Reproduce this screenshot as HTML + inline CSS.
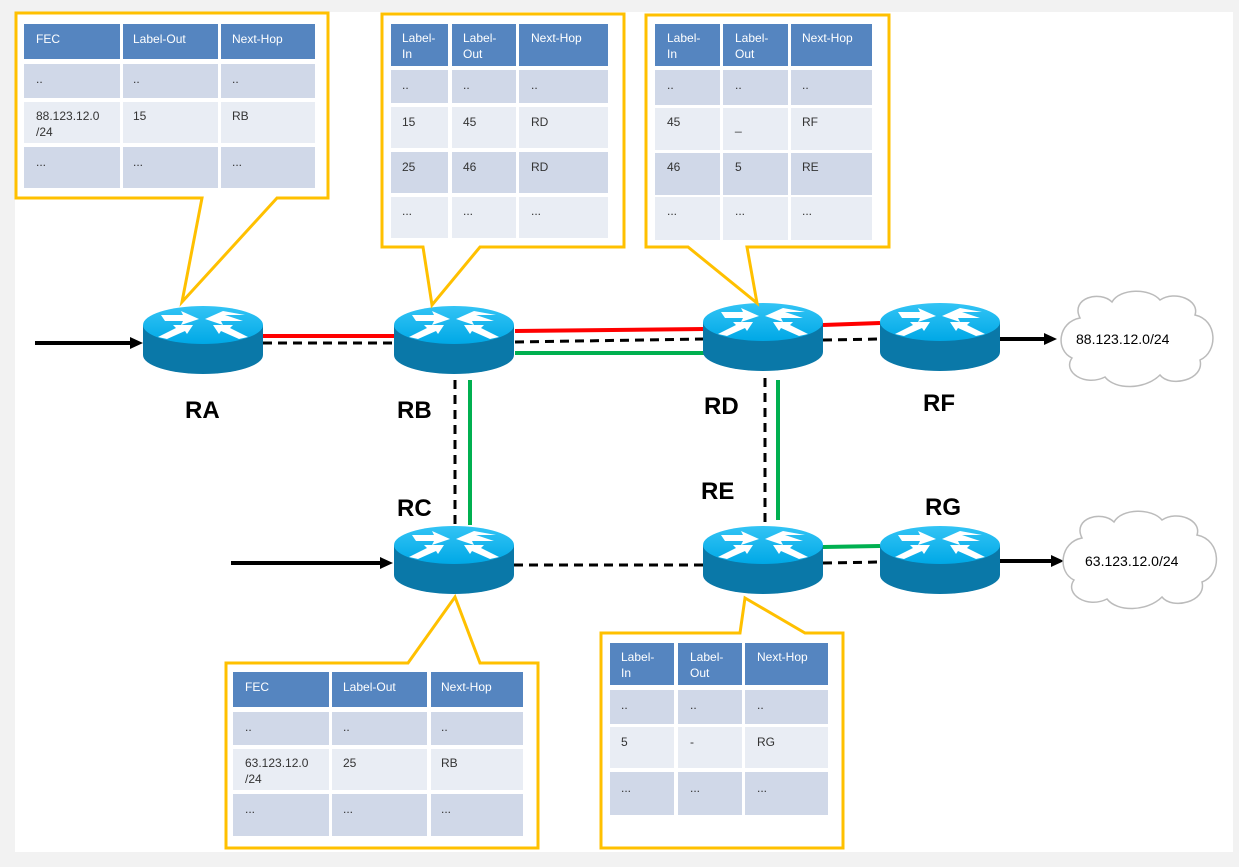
<!DOCTYPE html>
<html><head><meta charset="utf-8"><style>
html,body{margin:0;padding:0;background:#f2f2f2;}
svg{display:block;font-family:"Liberation Sans",sans-serif;}
.h{fill:#fff;font-size:12px;}
.c{fill:#333;font-size:12px;}
.lbl{font-size:24px;font-weight:bold;fill:#000;}
</style></head><body>
<svg width="1239" height="867" viewBox="0 0 1239 867" xmlns="http://www.w3.org/2000/svg">
<defs>
<linearGradient id="tg" x1="0" y1="0" x2="0" y2="1"><stop offset="0" stop-color="#33c4f5"/><stop offset="1" stop-color="#00a8e6"/></linearGradient>
<g id="r">
<path d="M-60,0 L-60,30 A60,19 0 0 0 60,30 L60,0 Z" fill="#0a78a8"/>
<ellipse cx="0" cy="0" rx="60" ry="19" fill="url(#tg)"/>
<g fill="#fff">
<polygon points="-42,-10 -20,-10 -22,-14 -4,-6 -22,0 -20,-4 -38,-4"/>
<polygon points="42,-10 22,-10 40,-4 18,-4 20,0 2,-6 20,-14"/>
<polygon points="-45,12 -27,3 -30,0 -10,0 -16,9 -18,6 -36,14"/>
<polygon points="45,12 27,3 30,0 10,0 16,9 18,6 36,14"/>
</g>
</g>
</defs>
<rect x="15" y="12" width="1218" height="840" fill="#fff"/>

<!-- lines -->
<g fill="none" stroke-width="4">
<line x1="263" y1="336" x2="395" y2="336" stroke="#f00"/>
<line x1="515" y1="331" x2="705" y2="329" stroke="#f00"/>
<line x1="823" y1="325" x2="880" y2="323" stroke="#f00"/>
<line x1="515" y1="353" x2="705" y2="353" stroke="#00b050"/>
<line x1="470" y1="380" x2="470" y2="525" stroke="#00b050"/>
<line x1="778" y1="380" x2="778" y2="520" stroke="#00b050"/>
<line x1="823" y1="547" x2="880" y2="546" stroke="#00b050"/>
</g>
<g fill="none" stroke="#000" stroke-width="3" stroke-dasharray="9,6">
<line x1="263" y1="343" x2="395" y2="343"/>
<line x1="515" y1="342" x2="705" y2="339"/>
<line x1="823" y1="340" x2="880" y2="339"/>
<line x1="455" y1="380" x2="455" y2="528"/>
<line x1="765" y1="378" x2="765" y2="525"/>
<line x1="514" y1="565" x2="705" y2="565"/>
<line x1="823" y1="563" x2="880" y2="562"/>
</g>
<g stroke="#000" stroke-width="4">
<line x1="35" y1="343" x2="132" y2="343"/>
<line x1="231" y1="563" x2="382" y2="563"/>
<line x1="1000" y1="339" x2="1045" y2="339"/>
<line x1="1000" y1="561" x2="1052" y2="561"/>
</g>
<g fill="#000">
<polygon points="143,343 130,337 130,349"/>
<polygon points="393,563 380,557 380,569"/>
<polygon points="1057,339 1044,333 1044,345"/>
<polygon points="1064,561 1051,555 1051,567"/>
</g>

<!-- routers -->
<use href="#r" x="203" y="325"/>
<use href="#r" x="454" y="325"/>
<use href="#r" x="763" y="322"/>
<use href="#r" x="940" y="322"/>
<use href="#r" x="454" y="545"/>
<use href="#r" x="763" y="545"/>
<use href="#r" x="940" y="545"/>

<text class="lbl" x="185" y="418">RA</text>
<text class="lbl" x="397" y="418">RB</text>
<text class="lbl" x="704" y="414">RD</text>
<text class="lbl" x="923" y="411">RF</text>
<text class="lbl" x="397" y="516">RC</text>
<text class="lbl" x="701" y="499">RE</text>
<text class="lbl" x="925" y="515">RG</text>

<!-- clouds -->
<g fill="#fff" stroke="#bbb" stroke-width="1.5">
<path d="M1080,318 C1070,298 1100,290 1112,302 C1120,288 1150,288 1160,300 C1175,290 1200,300 1195,315 C1218,320 1218,352 1200,360 C1205,380 1170,388 1160,375 C1145,390 1115,390 1105,377 C1085,387 1062,372 1072,358 C1055,350 1058,322 1080,318 Z"/>
<path d="M1082,538 C1072,518 1102,510 1114,522 C1122,508 1152,508 1162,520 C1177,510 1202,520 1197,535 C1222,540 1222,575 1202,582 C1207,602 1172,610 1162,597 C1147,612 1117,612 1107,599 C1087,609 1064,594 1074,580 C1057,572 1060,542 1082,538 Z"/>
</g>
<text x="1076" y="344" style="font-size:14px;fill:#000">88.123.12.0/24</text>
<text x="1085" y="566" style="font-size:14px;fill:#000">63.123.12.0/24</text>

<!-- callouts -->
<g fill="#fff" stroke="#ffc000" stroke-width="3" stroke-linejoin="miter">
<path d="M16,13 H328 V198 H277 L182,302 L202,198 H16 Z"/>
<path d="M382,14 H624 V247 H480 L432,305 L423,247 H382 Z"/>
<path d="M646,15 H889 V247 H747 L757,303 L688,247 H646 Z"/>
<path d="M226,663 H408 L455,597 L480,663 H538 V848 H226 Z"/>
<path d="M601,633 H740 L745,598 L805,633 H843 V848 H601 Z"/>
</g>

<!-- RA table -->
<g>
<rect x="24" y="24" width="96" height="35" fill="#5585c0"/><rect x="123" y="24" width="95" height="35" fill="#5585c0"/><rect x="221" y="24" width="94" height="35" fill="#5585c0"/>
<rect x="24" y="64" width="96" height="34" fill="#d0d8e8"/><rect x="123" y="64" width="95" height="34" fill="#d0d8e8"/><rect x="221" y="64" width="94" height="34" fill="#d0d8e8"/>
<rect x="24" y="102" width="96" height="41" fill="#e9edf4"/><rect x="123" y="102" width="95" height="41" fill="#e9edf4"/><rect x="221" y="102" width="94" height="41" fill="#e9edf4"/>
<rect x="24" y="147" width="96" height="41" fill="#d0d8e8"/><rect x="123" y="147" width="95" height="41" fill="#d0d8e8"/><rect x="221" y="147" width="94" height="41" fill="#d0d8e8"/>
<text class="h" x="36" y="43">FEC</text><text class="h" x="133" y="43">Label-Out</text><text class="h" x="232" y="43">Next-Hop</text>
<text class="c" x="36" y="83">..</text><text class="c" x="133" y="83">..</text><text class="c" x="232" y="83">..</text>
<text class="c" x="36" y="120">88.123.12.0</text><text class="c" x="36" y="136">/24</text><text class="c" x="133" y="120">15</text><text class="c" x="232" y="120">RB</text>
<text class="c" x="36" y="166">...</text><text class="c" x="133" y="166">...</text><text class="c" x="232" y="166">...</text>
</g>

<!-- RB table -->
<g>
<rect x="391" y="24" width="57" height="42" fill="#5585c0"/><rect x="452" y="24" width="64" height="42" fill="#5585c0"/><rect x="519" y="24" width="89" height="42" fill="#5585c0"/>
<rect x="391" y="70" width="57" height="33" fill="#d0d8e8"/><rect x="452" y="70" width="64" height="33" fill="#d0d8e8"/><rect x="519" y="70" width="89" height="33" fill="#d0d8e8"/>
<rect x="391" y="107" width="57" height="41" fill="#e9edf4"/><rect x="452" y="107" width="64" height="41" fill="#e9edf4"/><rect x="519" y="107" width="89" height="41" fill="#e9edf4"/>
<rect x="391" y="152" width="57" height="41" fill="#d0d8e8"/><rect x="452" y="152" width="64" height="41" fill="#d0d8e8"/><rect x="519" y="152" width="89" height="41" fill="#d0d8e8"/>
<rect x="391" y="197" width="57" height="41" fill="#e9edf4"/><rect x="452" y="197" width="64" height="41" fill="#e9edf4"/><rect x="519" y="197" width="89" height="41" fill="#e9edf4"/>
<text class="h" x="402" y="42">Label-</text><text class="h" x="402" y="58">In</text><text class="h" x="463" y="42">Label-</text><text class="h" x="463" y="58">Out</text><text class="h" x="531" y="42">Next-Hop</text>
<text class="c" x="402" y="89">..</text><text class="c" x="463" y="89">..</text><text class="c" x="531" y="89">..</text>
<text class="c" x="402" y="126">15</text><text class="c" x="463" y="126">45</text><text class="c" x="531" y="126">RD</text>
<text class="c" x="402" y="171">25</text><text class="c" x="463" y="171">46</text><text class="c" x="531" y="171">RD</text>
<text class="c" x="402" y="215">...</text><text class="c" x="463" y="215">...</text><text class="c" x="531" y="215">...</text>
</g>

<!-- RD table -->
<g>
<rect x="655" y="24" width="65" height="42" fill="#5585c0"/><rect x="723" y="24" width="65" height="42" fill="#5585c0"/><rect x="791" y="24" width="81" height="42" fill="#5585c0"/>
<rect x="655" y="70" width="65" height="35" fill="#d0d8e8"/><rect x="723" y="70" width="65" height="35" fill="#d0d8e8"/><rect x="791" y="70" width="81" height="35" fill="#d0d8e8"/>
<rect x="655" y="108" width="65" height="42" fill="#e9edf4"/><rect x="723" y="108" width="65" height="42" fill="#e9edf4"/><rect x="791" y="108" width="81" height="42" fill="#e9edf4"/>
<rect x="655" y="153" width="65" height="42" fill="#d0d8e8"/><rect x="723" y="153" width="65" height="42" fill="#d0d8e8"/><rect x="791" y="153" width="81" height="42" fill="#d0d8e8"/>
<rect x="655" y="197" width="65" height="43" fill="#e9edf4"/><rect x="723" y="197" width="65" height="43" fill="#e9edf4"/><rect x="791" y="197" width="81" height="43" fill="#e9edf4"/>
<text class="h" x="667" y="42">Label-</text><text class="h" x="667" y="58">In</text><text class="h" x="735" y="42">Label-</text><text class="h" x="735" y="58">Out</text><text class="h" x="802" y="42">Next-Hop</text>
<text class="c" x="667" y="89">..</text><text class="c" x="735" y="89">..</text><text class="c" x="802" y="89">..</text>
<text class="c" x="667" y="126">45</text><text class="c" x="735" y="130">_</text><text class="c" x="802" y="126">RF</text>
<text class="c" x="667" y="171">46</text><text class="c" x="735" y="171">5</text><text class="c" x="802" y="171">RE</text>
<text class="c" x="667" y="215">...</text><text class="c" x="735" y="215">...</text><text class="c" x="802" y="215">...</text>
</g>

<!-- RC table -->
<g>
<rect x="233" y="672" width="96" height="35" fill="#5585c0"/><rect x="332" y="672" width="95" height="35" fill="#5585c0"/><rect x="431" y="672" width="92" height="35" fill="#5585c0"/>
<rect x="233" y="712" width="96" height="33" fill="#d0d8e8"/><rect x="332" y="712" width="95" height="33" fill="#d0d8e8"/><rect x="431" y="712" width="92" height="33" fill="#d0d8e8"/>
<rect x="233" y="749" width="96" height="41" fill="#e9edf4"/><rect x="332" y="749" width="95" height="41" fill="#e9edf4"/><rect x="431" y="749" width="92" height="41" fill="#e9edf4"/>
<rect x="233" y="794" width="96" height="42" fill="#d0d8e8"/><rect x="332" y="794" width="95" height="42" fill="#d0d8e8"/><rect x="431" y="794" width="92" height="42" fill="#d0d8e8"/>
<text class="h" x="245" y="691">FEC</text><text class="h" x="343" y="691">Label-Out</text><text class="h" x="441" y="691">Next-Hop</text>
<text class="c" x="245" y="731">..</text><text class="c" x="343" y="731">..</text><text class="c" x="441" y="731">..</text>
<text class="c" x="245" y="767">63.123.12.0</text><text class="c" x="245" y="783">/24</text><text class="c" x="343" y="767">25</text><text class="c" x="441" y="767">RB</text>
<text class="c" x="245" y="813">...</text><text class="c" x="343" y="813">...</text><text class="c" x="441" y="813">...</text>
</g>

<!-- RE table -->
<g>
<rect x="610" y="643" width="64" height="42" fill="#5585c0"/><rect x="678" y="643" width="64" height="42" fill="#5585c0"/><rect x="745" y="643" width="83" height="42" fill="#5585c0"/>
<rect x="610" y="690" width="64" height="34" fill="#d0d8e8"/><rect x="678" y="690" width="64" height="34" fill="#d0d8e8"/><rect x="745" y="690" width="83" height="34" fill="#d0d8e8"/>
<rect x="610" y="727" width="64" height="41" fill="#e9edf4"/><rect x="678" y="727" width="64" height="41" fill="#e9edf4"/><rect x="745" y="727" width="83" height="41" fill="#e9edf4"/>
<rect x="610" y="772" width="64" height="43" fill="#d0d8e8"/><rect x="678" y="772" width="64" height="43" fill="#d0d8e8"/><rect x="745" y="772" width="83" height="43" fill="#d0d8e8"/>
<text class="h" x="621" y="661">Label-</text><text class="h" x="621" y="677">In</text><text class="h" x="690" y="661">Label-</text><text class="h" x="690" y="677">Out</text><text class="h" x="757" y="661">Next-Hop</text>
<text class="c" x="621" y="709">..</text><text class="c" x="690" y="709">..</text><text class="c" x="757" y="709">..</text>
<text class="c" x="621" y="746">5</text><text class="c" x="690" y="746">-</text><text class="c" x="757" y="746">RG</text>
<text class="c" x="621" y="792">...</text><text class="c" x="690" y="792">...</text><text class="c" x="757" y="792">...</text>
</g>
</svg>
</body></html>
